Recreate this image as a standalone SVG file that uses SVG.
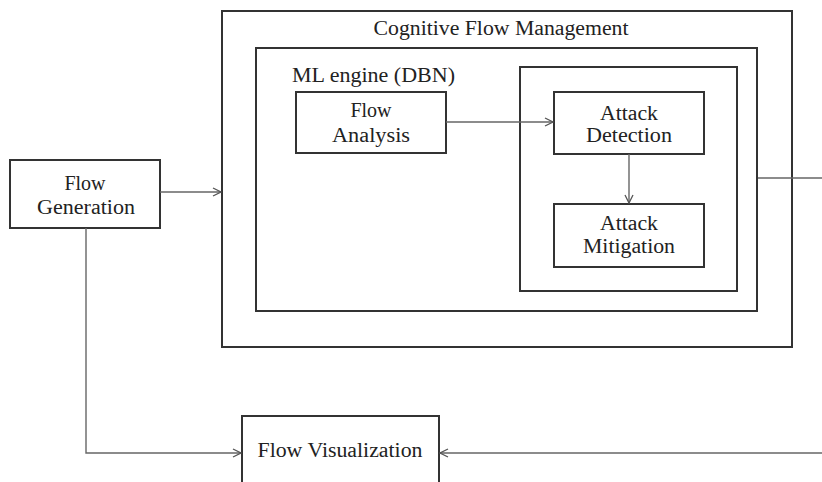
<svg xmlns="http://www.w3.org/2000/svg" width="822" height="482" viewBox="0 0 822 482">
<defs>
<marker id="arr" markerWidth="10" markerHeight="10" refX="9" refY="5" orient="auto" markerUnits="userSpaceOnUse">
<path d="M1,1 L9,5 L1,9" fill="none" stroke="#555" stroke-width="1.3"/>
</marker>
<style>
.box{fill:#fff;stroke:#333;stroke-width:2}
.frame{fill:none;stroke:#333;stroke-width:2}
.t{font-family:"Liberation Serif","Times New Roman",serif;font-size:20px;fill:#222;text-anchor:middle}
.tl{font-family:"Liberation Serif","Times New Roman",serif;font-size:20px;fill:#222}
.c{fill:none;stroke:#666;stroke-width:1.4}
</style>
</defs>
<rect width="822" height="482" fill="#fff"/>
<g id="cognitive-flow-management">
<rect class="frame" x="222" y="11" width="570" height="336"/>
<text class="t" x="501" y="35" textLength="255" lengthAdjust="spacingAndGlyphs">Cognitive Flow Management</text>
</g>
<g id="ml-engine">
<rect class="frame" x="256" y="48" width="501" height="263"/>
<text class="tl" x="292" y="82" textLength="163" lengthAdjust="spacingAndGlyphs">ML engine (DBN)</text>
</g>
<g id="attack-container">
<rect class="frame" x="520" y="67" width="217" height="224"/>
</g>
<g id="flow-generation">
<rect class="box" x="10" y="160" width="150" height="68"/>
<text class="t" x="85" y="190">Flow</text>
<text class="t" x="86" y="214" textLength="98" lengthAdjust="spacingAndGlyphs">Generation</text>
</g>
<g id="flow-analysis">
<rect class="box" x="296" y="92" width="150" height="61"/>
<text class="t" x="371" y="117">Flow</text>
<text class="t" x="371" y="142" textLength="78" lengthAdjust="spacingAndGlyphs">Analysis</text>
</g>
<g id="attack-detection">
<rect class="box" x="554" y="92" width="150" height="62"/>
<text class="t" x="629" y="120" textLength="58" lengthAdjust="spacingAndGlyphs">Attack</text>
<text class="t" x="629" y="142" textLength="86" lengthAdjust="spacingAndGlyphs">Detection</text>
</g>
<g id="attack-mitigation">
<rect class="box" x="554" y="204" width="150" height="63"/>
<text class="t" x="629" y="230" textLength="58" lengthAdjust="spacingAndGlyphs">Attack</text>
<text class="t" x="629" y="253" textLength="92" lengthAdjust="spacingAndGlyphs">Mitigation</text>
</g>
<g id="flow-visualization">
<rect class="box" x="242" y="416" width="197" height="80"/>
<text class="t" x="340" y="457" textLength="165" lengthAdjust="spacingAndGlyphs">Flow Visualization</text>
</g>
<g id="connectors">
<path class="c" d="M160,192 L221,192" marker-end="url(#arr)"/>
<path class="c" d="M446,122 L553,122" marker-end="url(#arr)"/>
<path class="c" d="M629,154 L629,203" marker-end="url(#arr)"/>
<path class="c" d="M758,178 L822,178"/>
<path class="c" d="M86,228 L86,453 L241,453" marker-end="url(#arr)"/>
<path class="c" d="M822,453 L440,453" marker-end="url(#arr)"/>
</g>
</svg>
